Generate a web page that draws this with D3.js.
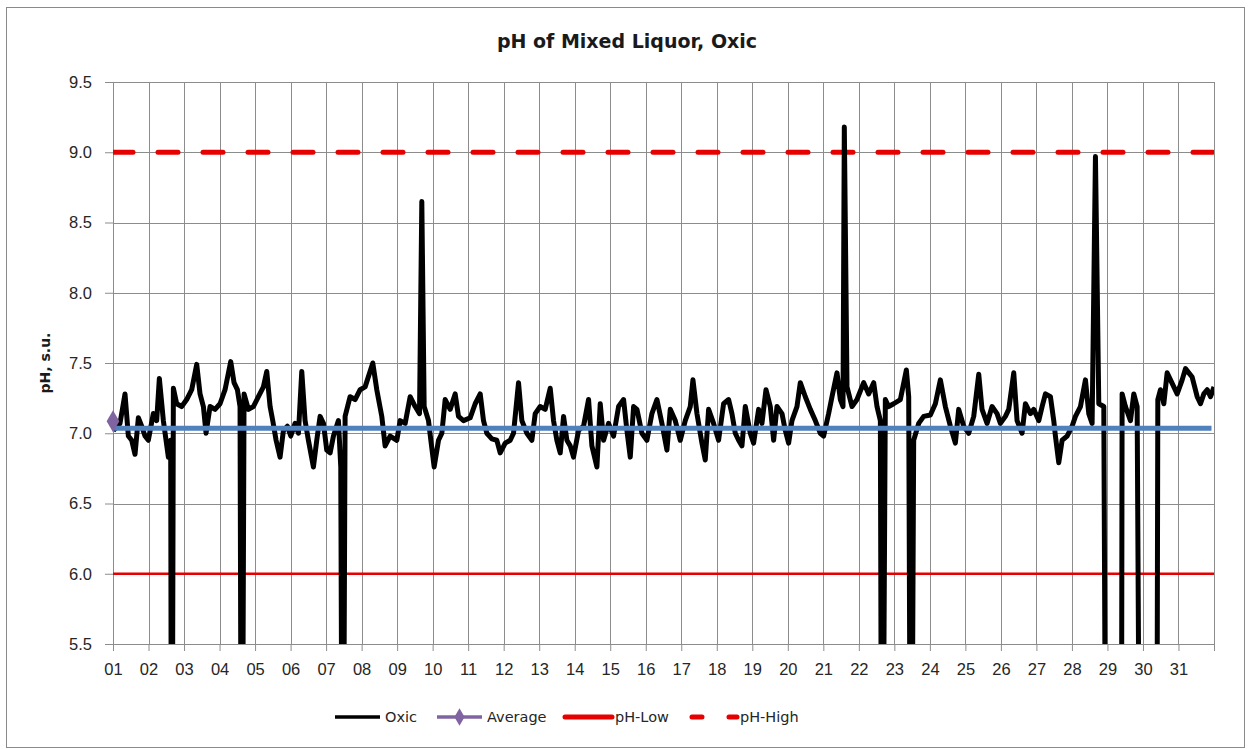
<!DOCTYPE html>
<html>
<head>
<meta charset="utf-8">
<script src="https://cdn.jsdelivr.net/npm/d3@7"></script>
<style>
  body { margin: 0; background: #fff; }
  svg { font-family: "DejaVu Sans", Verdana, sans-serif; }
</style>
</head>
<body>
<svg id="chart" width="1249" height="749"></svg>
<script>
// Chart data
const days = d3.range(1, 32);
const dayLabels = days.map(d => String(d).padStart(2, "0"));
const yTicks = [5.5, 6.0, 6.5, 7.0, 7.5, 8.0, 8.5, 9.0, 9.5];

// Oxic pH readings: [day (1 = start of 01), pH]
const oxic = [
  [1.009, 7.02], [1.197, 7.07], [1.338, 7.28], [1.432, 6.98], [1.526, 6.95], [1.62, 6.85],
  [1.714, 7.11], [1.808, 7.05], [1.901, 6.98], [1.995, 6.95], [2.136, 7.14], [2.23, 7.09],
  [2.305, 7.39], [2.418, 7.09], [2.559, 6.83], [2.624, 6.95], [2.653, 3.0], [2.70, 7.32],
  [2.793, 7.21], [2.934, 7.19], [3.075, 7.24], [3.216, 7.31], [3.357, 7.49], [3.451, 7.28],
  [3.545, 7.19], [3.62, 7.0], [3.732, 7.19], [3.873, 7.17], [4.014, 7.21], [4.155, 7.31],
  [4.315, 7.51], [4.408, 7.36], [4.502, 7.31], [4.577, 7.19], [4.624, 3.0], [4.69, 7.28],
  [4.812, 7.17], [4.953, 7.19], [5.094, 7.26], [5.235, 7.33], [5.329, 7.44], [5.423, 7.19],
  [5.498, 7.09], [5.592, 6.95], [5.704, 6.83], [5.798, 7.02], [5.911, 7.05], [6.005, 6.98],
  [6.127, 7.07], [6.221, 7.0], [6.315, 7.44], [6.408, 7.09], [6.502, 6.95], [6.643, 6.76],
  [6.737, 6.95], [6.831, 7.12], [6.925, 7.07], [7.019, 6.88], [7.113, 6.86], [7.207, 6.98],
  [7.347, 7.09], [7.413, 6.76], [7.469, 3.0], [7.535, 7.12], [7.676, 7.26], [7.817, 7.24],
  [7.958, 7.31], [8.099, 7.33], [8.315, 7.50], [8.427, 7.31], [8.568, 7.12], [8.662, 6.91],
  [8.803, 6.98], [8.991, 6.95], [9.085, 7.09], [9.226, 7.07], [9.367, 7.26], [9.508, 7.19],
  [9.63, 7.14], [9.695, 8.65], [9.761, 7.19], [9.883, 7.09], [9.949, 6.95], [10.043, 6.76],
  [10.165, 6.95], [10.259, 7.0], [10.353, 7.24], [10.493, 7.17], [10.634, 7.28], [10.728, 7.12],
  [10.869, 7.09], [11.057, 7.11], [11.198, 7.21], [11.339, 7.28], [11.432, 7.09], [11.526, 7.0],
  [11.667, 6.96], [11.808, 6.95], [11.902, 6.86], [12.043, 6.93], [12.184, 6.95], [12.277, 7.0],
  [12.418, 7.36], [12.512, 7.09], [12.653, 7.0], [12.794, 6.95], [12.888, 7.14], [13.028, 7.19],
  [13.169, 7.17], [13.31, 7.32], [13.404, 7.09], [13.498, 6.95], [13.592, 6.86], [13.686, 7.12],
  [13.78, 6.95], [13.874, 6.91], [13.967, 6.83], [14.108, 7.02], [14.249, 7.05], [14.39, 7.24],
  [14.484, 6.91], [14.625, 6.76], [14.719, 7.21], [14.813, 6.95], [14.953, 7.07], [15.094, 6.98],
  [15.235, 7.19], [15.376, 7.24], [15.47, 7.02], [15.564, 6.83], [15.658, 7.19], [15.752, 7.17],
  [15.892, 7.0], [16.033, 6.95], [16.174, 7.14], [16.315, 7.24], [16.456, 7.07], [16.597, 6.88],
  [16.69, 7.17], [16.831, 7.09], [16.972, 6.95], [17.113, 7.09], [17.254, 7.19], [17.329, 7.38],
  [17.442, 7.14], [17.582, 6.93], [17.676, 6.81], [17.77, 7.17], [17.91, 7.07], [18.051, 6.95],
  [18.192, 7.21], [18.333, 7.24], [18.427, 7.14], [18.521, 7.0], [18.615, 6.95], [18.709, 6.91],
  [18.803, 7.19], [18.943, 7.0], [19.037, 6.93], [19.178, 7.17], [19.272, 7.07], [19.385, 7.31],
  [19.507, 7.19], [19.601, 6.95], [19.695, 7.19], [19.836, 7.14], [19.929, 7.02], [20.023, 6.93],
  [20.117, 7.09], [20.258, 7.19], [20.352, 7.36], [20.493, 7.26], [20.634, 7.17], [20.774, 7.09],
  [20.915, 7.0], [21.009, 6.98], [21.15, 7.14], [21.244, 7.26], [21.385, 7.43], [21.479, 7.24],
  [21.554, 7.19], [21.591, 9.18], [21.667, 7.33], [21.808, 7.19], [21.948, 7.24], [22.136, 7.36],
  [22.277, 7.28], [22.418, 7.36], [22.512, 7.19], [22.606, 7.09], [22.652, 3.0], [22.746, 7.24],
  [22.84, 7.19], [22.981, 7.21], [23.169, 7.24], [23.338, 7.45], [23.404, 7.26], [23.469, 3.0],
  [23.544, 6.95], [23.685, 7.07], [23.826, 7.12], [24.014, 7.13], [24.155, 7.21], [24.296, 7.38],
  [24.436, 7.19], [24.577, 7.05], [24.718, 6.93], [24.812, 7.17], [24.953, 7.05], [25.094, 7.0],
  [25.235, 7.12], [25.376, 7.42], [25.469, 7.17], [25.61, 7.07], [25.751, 7.19], [25.892, 7.14],
  [25.986, 7.07], [26.127, 7.12], [26.221, 7.17], [26.362, 7.43], [26.455, 7.09], [26.596, 7.0],
  [26.69, 7.21], [26.831, 7.14], [26.925, 7.17], [27.066, 7.09], [27.16, 7.19], [27.254, 7.28],
  [27.394, 7.26], [27.488, 7.09], [27.535, 6.98], [27.629, 6.79], [27.723, 6.95], [27.864, 6.98],
  [28.005, 7.05], [28.099, 7.12], [28.24, 7.19], [28.38, 7.38], [28.474, 7.14], [28.568, 7.07],
  [28.662, 8.97], [28.756, 7.21], [28.897, 7.19], [28.972, 3.0], [29.385, 3.0], [29.413, 7.28],
  [29.507, 7.19], [29.648, 7.09], [29.742, 7.28], [29.836, 7.19], [29.93, 3.0], [30.38, 3.0],
  [30.418, 7.24], [30.493, 7.31], [30.587, 7.21], [30.681, 7.43], [30.775, 7.38], [30.869, 7.33],
  [30.963, 7.28], [31.104, 7.38], [31.197, 7.46], [31.291, 7.43], [31.385, 7.40], [31.526, 7.26],
  [31.62, 7.21], [31.714, 7.28], [31.808, 7.31], [31.902, 7.26], [32.0, 7.33]
];

const averageLevel = 7.036;          // blue average band
const averagePoint = [1.0, 7.085];   // Average marker
const phLow = 6.0;
const phHigh = 9.0;

const legendItems = ["Oxic", "Average", "pH-Low", "pH-High"];

// Layout
const width = 1249, height = 749;
const margin = { left: 113, right: 35, top: 82, bottom: 105 };
const plotW = width - margin.left - margin.right;
const plotH = height - margin.top - margin.bottom;

const svg = d3.select("#chart");

// chart border
svg.append("rect")
  .attr("x", 6.5).attr("y", 7.5)
  .attr("width", 1238).attr("height", 740)
  .attr("fill", "#fff")
  .attr("stroke", "#8a8a8a")
  .attr("stroke-width", 1);

const x = d3.scaleLinear().domain([1, 32]).range([0, plotW]);
const y = d3.scaleLinear().domain([5.5, 9.5]).range([plotH, 0]);

const g = svg.append("g").attr("transform", `translate(${margin.left},${margin.top})`);

// Gridlines
g.append("g").selectAll("line")
  .data(yTicks)
  .enter().append("line")
  .attr("x1", 0).attr("x2", plotW)
  .attr("y1", d => Math.round(y(d)) + 0.5).attr("y2", d => Math.round(y(d)) + 0.5)
  .attr("stroke", "#8c8c8c");

g.append("g").selectAll("line")
  .data(d3.range(1, 33))
  .enter().append("line")
  .attr("x1", d => Math.round(x(d)) + 0.5).attr("x2", d => Math.round(x(d)) + 0.5)
  .attr("y1", 0).attr("y2", plotH)
  .attr("stroke", "#8c8c8c");

// Axes
const yAxis = g.append("g")
  .call(d3.axisLeft(y).tickValues(yTicks).tickFormat(d3.format(".1f")).tickSize(8).tickPadding(13));
const xAxis = g.append("g")
  .attr("transform", `translate(0,${plotH})`)
  .call(d3.axisBottom(x).tickValues(d3.range(1, 33)).tickFormat(d => d <= 31 ? dayLabels[d - 1] : "")
    .tickSize(7).tickPadding(12));

[yAxis, xAxis].forEach(a => {
  a.select(".domain").remove();
  a.selectAll(".tick line").attr("stroke", "#8c8c8c");
  a.selectAll(".tick text").attr("fill", "#262626").style("font-size", "16.5px");
});

// Clip for series
svg.append("clipPath").attr("id", "plotClip")
  .append("rect").attr("x", 0).attr("y", 0).attr("width", plotW).attr("height", plotH);

const series = g.append("g").attr("clip-path", "url(#plotClip)");

// pH-High dashed
series.append("line")
  .attr("x1", x(1)).attr("x2", x(32))
  .attr("y1", y(phHigh)).attr("y2", y(phHigh))
  .attr("stroke", "#e60000").attr("stroke-width", 5)
  .attr("stroke-dasharray", "20,25").attr("stroke-linecap", "round");

// pH-Low
series.append("line")
  .attr("x1", x(1)).attr("x2", x(32))
  .attr("y1", y(phLow)).attr("y2", y(phLow))
  .attr("stroke", "#e60000").attr("stroke-width", 2.5);

// Oxic line
const line = d3.line().x(d => x(d[0])).y(d => y(d[1]));
series.append("path")
  .datum(oxic)
  .attr("d", line)
  .attr("fill", "none")
  .attr("stroke", "#000")
  .attr("stroke-width", 5)
  .attr("stroke-linejoin", "round");

// Average band
series.append("line")
  .attr("x1", x(1)).attr("x2", x(31.93))
  .attr("y1", y(averageLevel)).attr("y2", y(averageLevel))
  .attr("stroke", "#4f81bd").attr("stroke-width", 5);

// Average marker
g.append("path")
  .attr("d", d3.symbol(d3.symbolDiamond, 140)())
  .attr("transform", `translate(${x(averagePoint[0])},${y(averagePoint[1])})`)
  .attr("fill", "#8064a2");

// Title
svg.append("text")
  .attr("x", 627).attr("y", 48)
  .attr("text-anchor", "middle")
  .style("font-size", "19px").style("font-weight", "bold")
  .attr("fill", "#1a1a1a")
  .text("pH of Mixed Liquor, Oxic");

// Y axis title
svg.append("text")
  .attr("transform", `translate(50,${margin.top + plotH / 2}) rotate(-90)`)
  .attr("text-anchor", "middle")
  .style("font-size", "14px").style("font-weight", "bold")
  .attr("fill", "#1a1a1a")
  .text("pH, s.u.");

// Legend
const legendY = 717;
const legendX = [335, 437, 565, 690];
const legend = svg.append("g");
legendItems.forEach((name, i) => {
  const lg = legend.append("g").attr("transform", `translate(${legendX[i]},${legendY})`);
  if (name === "Oxic") {
    lg.append("line").attr("x1", 0).attr("x2", 45).attr("stroke", "#000").attr("stroke-width", 3.6);
  } else if (name === "Average") {
    lg.append("line").attr("x1", 0).attr("x2", 45).attr("stroke", "#8064a2").attr("stroke-width", 3.6);
    lg.append("path").attr("d", d3.symbol(d3.symbolDiamond, 90)())
      .attr("transform", "translate(22.5,0)").attr("fill", "#8064a2");
  } else if (name === "pH-Low") {
    lg.append("line").attr("x1", 0).attr("x2", 47).attr("stroke", "#e60000").attr("stroke-width", 5)
      .attr("stroke-linecap", "round");
  } else {
    lg.append("line").attr("x1", 2).attr("x2", 47).attr("stroke", "#e60000").attr("stroke-width", 5)
      .attr("stroke-dasharray", "10,27").attr("stroke-linecap", "round");
  }
  lg.append("text")
    .attr("x", 50)
    .attr("y", 0).attr("dy", "0.35em")
    .style("font-size", "14.5px")
    .attr("fill", "#262626")
    .text(name);
});
</script>
</body>
</html>
